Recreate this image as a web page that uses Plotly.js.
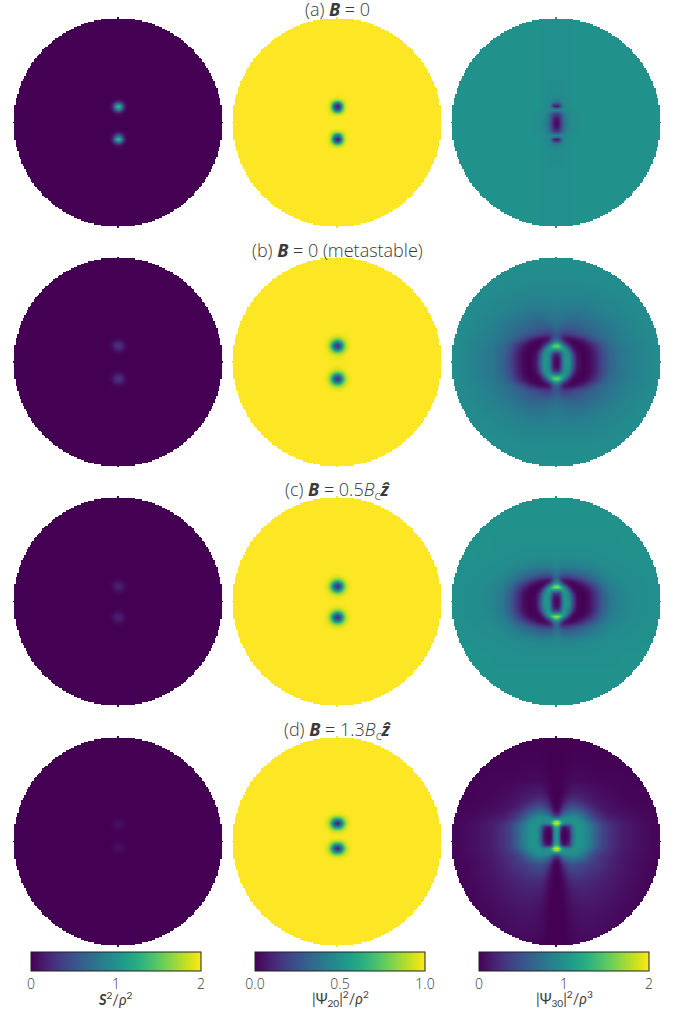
<!DOCTYPE html>
<html><head><meta charset="utf-8">
<script src="https://cdn.plot.ly/plotly-3.0.1.min.js"></script>
<style>html,body{margin:0;padding:0;background:#fff}#c{width:686px;height:1013px}</style>
</head><body><div id="c"></div>
<script>
// ---- Panel titles and colour bar labels ----
const rowTitles = ['(a) <b><i>B</i></b> = 0','(b) <b><i>B</i></b> = 0 (metastable)','(c) <b><i>B</i></b> = 0.5<i>B</i><sub>c</sub><b><i>ẑ</i></b>','(d) <b><i>B</i></b> = 1.3<i>B</i><sub>c</sub><b><i>ẑ</i></b>'];
const barTitles = ['<b><i>S</i></b><sup>2</sup>/<i>ρ</i><sup>2</sup>','|Ψ<sub>20</sub>|<sup>2</sup>/<i>ρ</i><sup>2</sup>','|Ψ<sub>30</sub>|<sup>2</sup>/<i>ρ</i><sup>3</sup>'];
const barMax = [2,1,2];
const barTickVals = [[0,1,2],[0,0.5,1],[0,1,2]];
const barTickText = [['0','1','2'],['0.0','0.5','1.0'],['0','1','2']];

// ---- Disc outline: half-width of each mask row, in mask cells, row 0 to row 75 ----
const discHalfWidth = [75,74,74,74,74,74,74,74,74,74,74,74,74,73,73,73,73,73,72,72,72,71,71,71,71,70,70,69,69,69,68,68,67,67,66,66,65,65,64,64,63,62,62,61,60,60,59,58,57,56,55,54,54,53,52,50,49,48,47,46,45,43,42,40,39,37,35,33,31,29,26,24,21,17,12,0];
const maskStep = 0.6755;

// ---- Vortex height above the feature centre (field units), rows a-d ----
const leftSpot = [7.8,8,7.5,5.5];
const midSpot = [7.8,8,7.5,6];
const rowShift = [0,0,0,2.9];

// ---- Left column: S^2/rho^2 around a vortex (rows dy=0..5, columns dx=0..5) ----
const patchX = [0,1,2,3,4,5,7,51];
const leftA = [[1.45,1.1,.52,.16,.03,0],[1,.75,.36,.1,.02,0],[.42,.3,.15,.05,.01,0],[.12,.09,.04,.01,0,0],[.02,.02,.01,0,0,0],[0,0,0,0,0,0]];
const leftB = [[.3,.26,.17,.08,.03,.01],[.26,.22,.14,.06,.02,0],[.17,.14,.09,.04,.01,0],[.08,.06,.04,.02,.01,0],[.03,.02,.01,.01,0,0],[.01,0,0,0,0,0]];
const leftC = [[.19,.16,.1,.05,.02,0],[.16,.14,.09,.04,.01,0],[.1,.09,.05,.02,.01,0],[.05,.04,.02,.01,0,0],[.02,.01,.01,0,0,0],[0,0,0,0,0,0]];
const leftD = [[.08,.07,.04,.02,.01,0],[.07,.06,.04,.02,0,0],[.04,.04,.02,.01,0,0],[.02,.02,.01,0,0,0],[.01,0,0,0,0,0],[0,0,0,0,0,0]];

// ---- Middle column: |Psi20|^2/rho^2 around a vortex ----
const midA = [[.05,.18,.5,.82,.95,.99],[.18,.32,.62,.85,.96,.99],[.5,.62,.78,.9,.97,1],[.82,.85,.9,.96,.98,1],[.95,.96,.97,.98,.99,1],[.99,.99,1,1,1,1]];
const midB = [[.12,.22,.46,.7,.87,.95],[.22,.32,.55,.75,.88,.96],[.46,.55,.68,.82,.92,.97],[.7,.75,.82,.89,.95,.98],[.87,.88,.92,.95,.98,.99],[.95,.96,.97,.98,.99,1]];
const midC = [[.12,.22,.46,.7,.87,.95],[.22,.32,.55,.75,.88,.96],[.46,.55,.68,.82,.92,.97],[.7,.75,.82,.89,.95,.98],[.87,.88,.92,.95,.98,.99],[.95,.96,.97,.98,.99,1]];
const midD = [[.1,.2,.43,.67,.85,.94],[.22,.32,.53,.73,.87,.95],[.5,.57,.68,.82,.92,.97],[.76,.78,.84,.9,.95,.98],[.92,.92,.94,.96,.98,.99],[.98,.98,.98,.99,1,1]];

// ---- Right column: |Psi30|^2/rho^3 ----
const rightAX = [0,1,2,3,4,6,8,12,51];
const rightAY = [0,2,4,5,6,7,8,9,10,11,13,16,51];
const rightA = [
[.03,.12,.35,.6,.75,.92,.97,1,1],
[.08,.18,.4,.62,.78,.92,.97,1,1],
[.3,.38,.52,.68,.82,.93,.97,1,1],
[.6,.63,.7,.8,.88,.95,.98,1,1],
[.9,.9,.9,.92,.94,.97,.99,1,1],
[.65,.7,.82,.92,.95,.98,1,1,1],
[.08,.2,.55,.85,.93,.98,1,1,1],
[.35,.42,.65,.88,.94,.98,1,1,1],
[.72,.76,.85,.92,.95,.98,1,1,1],
[.86,.87,.9,.94,.96,.98,1,1,1],
[.93,.93,.95,.96,.97,.99,1,1,1],
[.98,.98,.98,.98,.99,.99,1,1,1],
[1,1,1,1,1,1,1,1,1]];
const rightX = [0,1,2,3,4,6,8,10,13,16,19,22,26,32,40,51];
const rightY = [0,2,4,5,6,7,8,9,10,11,12,14,17,20,25,32,40,51];
const rightB = [
[.02,.1,.35,.8,1,1.05,.55,.12,0,.03,.2,.42,.63,.8,.88,.98],
[.05,.12,.4,.8,1,1.02,.5,.1,0,.03,.2,.42,.63,.8,.88,.98],
[.2,.3,.55,.85,1,.95,.4,.08,0,.03,.2,.43,.64,.8,.88,.98],
[.55,.6,.75,.95,1.05,.85,.3,.05,0,.04,.22,.45,.65,.8,.88,.98],
[.95,1,1.05,1.1,1.1,.7,.2,.03,0,.06,.24,.47,.66,.8,.88,.98],
[1.35,1.35,1.25,1.1,.95,.5,.1,.02,.01,.08,.27,.5,.68,.8,.88,.98],
[1.6,1.5,1.3,1,.75,.3,.05,.01,.02,.11,.31,.52,.69,.82,.89,.98],
[1.3,1.2,.95,.7,.45,.15,.02,.01,.05,.17,.36,.55,.7,.82,.89,.98],
[.95,.85,.62,.4,.25,.08,.01,.02,.1,.26,.45,.6,.72,.83,.9,.98],
[.7,.62,.42,.25,.12,.05,.05,.08,.18,.36,.52,.64,.74,.84,.9,.98],
[.55,.48,.33,.2,.12,.1,.14,.2,.32,.46,.58,.68,.76,.85,.91,.98],
[.52,.48,.42,.38,.35,.38,.42,.46,.52,.58,.65,.72,.78,.85,.92,.98],
[.66,.64,.6,.58,.56,.55,.56,.58,.62,.66,.7,.75,.8,.87,.93,.98],
[.75,.74,.73,.72,.7,.68,.67,.68,.7,.73,.76,.8,.84,.89,.94,.98],
[.83,.83,.82,.82,.82,.81,.8,.8,.81,.83,.85,.87,.89,.92,.95,.98],
[.9,.9,.9,.9,.9,.89,.89,.89,.9,.9,.91,.92,.93,.95,.97,.99],
[.95,.95,.95,.95,.95,.95,.95,.95,.95,.96,.96,.96,.97,.97,.98,.99],
[1,1,1,1,1,1,1,1,1,1,1,1,1,1,1,1]];
const rightC = [
[.03,.1,.35,.85,1.05,1,.45,.05,0,.05,.3,.55,.78,.92,.97,1],
[.05,.12,.42,.85,1.05,.97,.4,.05,0,.06,.3,.56,.78,.92,.97,1],
[.3,.35,.6,.95,1.05,.85,.28,.03,0,.07,.32,.58,.79,.92,.97,1],
[.7,.75,.85,1.05,1.1,.7,.15,.02,.01,.1,.35,.6,.81,.92,.97,1],
[1.2,1.2,1.2,1.15,1.05,.5,.08,.01,.02,.14,.4,.64,.83,.93,.97,1],
[1.7,1.6,1.38,1.1,.85,.25,.03,.01,.05,.2,.45,.68,.84,.93,.97,1],
[1.5,1.35,1.05,.75,.5,.1,.01,.03,.1,.28,.5,.7,.85,.93,.97,1],
[1.1,.95,.66,.4,.2,.05,.03,.08,.2,.38,.56,.73,.86,.94,.98,1],
[.85,.72,.42,.2,.1,.06,.09,.16,.31,.48,.64,.77,.88,.95,.98,1],
[.72,.58,.3,.18,.15,.16,.22,.3,.42,.56,.7,.8,.9,.95,.98,1],
[.68,.55,.4,.33,.33,.35,.4,.46,.55,.65,.75,.83,.92,.96,.98,1],
[.75,.7,.62,.58,.57,.58,.6,.64,.7,.76,.82,.88,.94,.97,.99,1],
[.87,.86,.84,.82,.82,.82,.83,.84,.86,.88,.91,.94,.97,.98,.99,1],
[.94,.94,.93,.93,.93,.93,.93,.94,.94,.95,.96,.97,.98,.99,1,1],
[.98,.98,.98,.98,.98,.98,.98,.98,.98,.98,.99,.99,.99,1,1,1],
[1,1,1,1,1,1,1,1,1,1,1,1,1,1,1,1],
[1,1,1,1,1,1,1,1,1,1,1,1,1,1,1,1],
[1,1,1,1,1,1,1,1,1,1,1,1,1,1,1,1]];
// panel (d) is not mirrored top to bottom, so its rows are listed from bottom to top
const rightDY = [-54,-35,-27,-21,-17,-14,-12,-10,-9,-8,-7,-6,-5,-4,-2,0,2,4,5,6,7,8,9,10,12,14,17,21,27,35,55];
const rightDBottom = [
[0,0,0,0,0,.01,.02,.03,.03,.03,.03,.03,.02,.02,.01,0],
[0,0,0,0,.02,.05,.08,.1,.11,.11,.1,.09,.08,.05,.03,.01],
[0,0,.01,.02,.05,.11,.15,.17,.18,.17,.16,.14,.12,.08,.04,.01],
[0,.01,.03,.06,.1,.2,.25,.27,.26,.24,.2,.18,.14,.1,.05,.01],
[0,.02,.06,.12,.2,.33,.38,.38,.35,.3,.26,.22,.17,.11,.06,.01],
[.01,.04,.12,.24,.35,.45,.5,.48,.42,.37,.32,.27,.2,.12,.06,.01],
[.06,.12,.28,.42,.55,.65,.7,.65,.56,.44,.34,.27,.2,.12,.06,.02],
[.3,.38,.55,.7,.78,.85,.88,.85,.72,.53,.38,.29,.22,.13,.07,.02],
[.6,.7,.82,.9,.95,.95,.95,.92,.78,.58,.41,.31,.23,.13,.07,.02],
[1.15,1.1,1.02,1,1,.98,.98,.97,.85,.65,.46,.34,.25,.14,.07,.02],
[1.75,1.6,1.25,1.05,1,.98,1,1,.92,.72,.5,.36,.26,.14,.08,.02],
[1.85,1.75,1.3,1,.9,.88,1,1.02,.97,.79,.56,.39,.27,.15,.08,.02],
[1.55,1.4,.8,.5,.4,.5,.9,1.05,1,.82,.58,.41,.28,.15,.08,.02],
[1.25,1,.35,.12,.06,.25,.8,1.05,1,.84,.6,.42,.28,.15,.08,.02],
[1.1,.85,.15,.03,.01,.12,.76,1.05,1,.85,.6,.42,.28,.15,.08,.02]];
const rightDCentre = [1.1,.85,.12,.02,0,.1,.72,1.05,1,.85,.6,.42,.28,.15,.08,.02];
const rightDTop = [
[1.1,.85,.15,.03,.01,.12,.76,1.05,1,.85,.6,.42,.28,.15,.08,.02],
[1.25,1,.35,.12,.06,.25,.8,1.05,1,.84,.6,.42,.28,.15,.08,.02],
[1.55,1.4,.8,.5,.4,.5,.9,1.05,1,.82,.58,.41,.27,.15,.08,.02],
[1.85,1.75,1.3,1,.9,.88,1,1.02,.97,.78,.55,.38,.25,.14,.07,.02],
[1.75,1.6,1.25,1.05,1,.98,1,1,.92,.7,.48,.33,.22,.13,.07,.02],
[1.15,1.1,1.02,1,1,.98,.98,.97,.85,.62,.42,.28,.19,.12,.06,.02],
[.6,.7,.82,.9,.95,.95,.95,.92,.78,.55,.36,.24,.16,.1,.05,.02],
[.3,.38,.55,.7,.78,.85,.88,.85,.7,.5,.33,.22,.14,.09,.05,.02],
[.06,.12,.28,.42,.55,.65,.7,.65,.55,.38,.24,.17,.1,.07,.04,.02],
[.01,.04,.12,.25,.35,.45,.5,.47,.38,.27,.17,.12,.09,.05,.03,.01],
[0,.01,.04,.1,.18,.26,.3,.27,.22,.16,.12,.09,.07,.04,.02,.01],
[0,0,.01,.02,.06,.1,.14,.14,.12,.1,.08,.06,.05,.03,.02,.01],
[0,0,0,.01,.02,.04,.05,.05,.05,.04,.04,.03,.03,.02,.01,.01],
[0,0,0,0,.005,.01,.015,.015,.015,.015,.01,.01,.01,.01,.005,0],
[0,0,0,0,0,0,0,0,0,0,0,0,0,0,0,0]];

// ---- Helpers: unfold the read-off quadrants ----
const mirrorRow = r => r.slice(1).reverse().concat(r);
const mirrorAxis = a => a.slice(1).reverse().map(v => -v).concat(a);
const mirrorRows = rows => rows.slice(1).reverse().concat(rows);

// stop each field just inside the axis frame so its image never touches the subplot edge
const LIM = 51;
function trimField(f) {
  const x = f.x.map(v => Math.max(-LIM, Math.min(LIM, v)));
  const y = f.y.map(v => Math.max(-LIM, Math.min(LIM, v)));
  const keepY = y.map((v,i) => i === 0 || v !== y[i-1]);
  const ys = y.filter((v,i) => keepY[i]);
  const zs = f.z.filter((v,i) => keepY[i]);
  const yOut = [-LIM-0.5].concat(ys, [LIM+0.5]);
  const zOut = [zs[0]].concat(zs, [zs[zs.length-1]]).map(r => [r[0]].concat(r, [r[r.length-1]]));
  return { x:[-LIM-0.5].concat(x, [LIM+0.5]), y:yOut, z:zOut };
}
function fromPatch(patch, v, bg, shift) {
  const bgRow = patchX.map(() => bg);
  const ys = [0], rows = [bgRow];
  const withBg = r => r.concat([bg, bg]);
  [5,4,3,2,1].forEach(d => { ys.push(v - d); rows.push(withBg(patch[d])); });
  [0,1,2,3,4,5].forEach(d => { ys.push(v + d); rows.push(withBg(patch[d])); });
  ys.push(v + 7); rows.push(bgRow);
  ys.push(60); rows.push(bgRow);
  return trimField({ x: mirrorAxis(patchX), y: mirrorAxis(ys).map(t => t + shift), z: mirrorRows(rows).map(mirrorRow) });
}
function fromQuad(xs, ys, rows, shift) {
  return trimField({ x: mirrorAxis(xs), y: mirrorAxis(ys).map(t => t + shift), z: mirrorRows(rows).map(mirrorRow) });
}

const leftPanels = [leftA,leftB,leftC,leftD];
const midPanels = [midA,midB,midC,midD];
const rightFields = [
  fromQuad(rightAX, rightAY, rightA, 0),
  fromQuad(rightX, rightY, rightB, 0),
  fromQuad(rightX, rightY, rightC, 0),
  trimField({ x: mirrorAxis(rightX), y: rightDY.map(t => t + rowShift[3]),
    z: rightDBottom.concat([rightDCentre], rightDTop).map(mirrorRow) })
];

// white cells outside the disc; the grid runs past the axes
const cellIdx = Array.from({length:161}, (_,i) => i - 80);
const maskAxis = cellIdx.map(i => i * maskStep);
const maskZ = cellIdx.map(j => cellIdx.map(i => (Math.abs(j) <= 75 && Math.abs(i) <= discHalfWidth[Math.abs(j)]) ? null : 1));

// ---- Layout geometry (pixels): 218.24 px span for the axis range of +-53 units ----
const W = 686, H = 1013, D = 218.24, AX = 53;
const colLeft = [8.88,227.88,446.88];
const rowTop = [13.38,252.88,492.38,732.38];
const rowTitleY = [9,250,490.5,730.5];
const barLeft = [31,255,479], barLen = 170, barTop = 952, barThick = 19;
const textFont = 'Open Sans, sans-serif', barFont = 'Lato, sans-serif', textColor = '#3a3a3a';

const traces = [], layout = {
  width: W, height: H, paper_bgcolor:'#fff', plot_bgcolor:'#fff',
  margin:{l:0,r:0,t:0,b:0,autoexpand:false}, showlegend:false,
  font:{family:textFont, color:textColor, size:15}, annotations:[]
};
let n = 0;
for (let r = 0; r < 4; r++) {
  const fields = [
    fromPatch(leftPanels[r], leftSpot[r], 0, rowShift[r]),
    fromPatch(midPanels[r], midSpot[r], 1, rowShift[r]),
    rightFields[r]
  ];
  for (let c = 0; c < 3; c++) {
    n++;
    const sfx = n === 1 ? '' : String(n);
    const axis = dom => ({domain:dom, range:[-AX,AX], visible:false, fixedrange:true});
    layout['xaxis'+sfx] = Object.assign(axis([colLeft[c]/W,(colLeft[c]+D)/W]), {anchor:'y'+sfx});
    layout['yaxis'+sfx] = Object.assign(axis([1-(rowTop[r]+D)/H,1-rowTop[r]/H]), {anchor:'x'+sfx});
    const t = {
      type:'heatmap', x:fields[c].x, y:fields[c].y, z:fields[c].z, xaxis:'x'+sfx, yaxis:'y'+sfx,
      colorscale:'Viridis', zmin:0, zmax:barMax[c], zsmooth:'best', hoverinfo:'skip', showscale:false
    };
    if (r === 0) {
      t.showscale = true;
      t.colorbar = {
        orientation:'h', lenmode:'pixels', len:barLen, thickness:barThick, thicknessmode:'pixels',
        x:barLeft[c]/W, xanchor:'left', y:1-barTop/H, yanchor:'top', xpad:0, ypad:0,
        outlinecolor:'#222', outlinewidth:1, borderwidth:0, ticks:'', ticklen:0,
        tickmode:'array', tickvals:barTickVals[c], ticktext:barTickText[c],
        tickfont:{family:textFont, size:14, color:textColor, weight:300}
      };
    }
    traces.push(t);
    traces.push({
      type:'heatmap', x:maskAxis, y:maskAxis, z:maskZ, xaxis:'x'+sfx, yaxis:'y'+sfx,
      colorscale:[[0,'#fff'],[1,'#fff']], zmin:0, zmax:1, zsmooth:false, hoverinfo:'skip', showscale:false
    });
  }
  layout.annotations.push({
    text:rowTitles[r], xref:'paper', yref:'paper', x:337/W, y:1-rowTitleY[r]/H,
    xanchor:'center', yanchor:'middle', showarrow:false,
    font:{family:textFont, size:18, color:textColor, weight:300}
  });
}
for (let c = 0; c < 3; c++) {
  layout.annotations.push({
    text:barTitles[c], xref:'paper', yref:'paper', x:(barLeft[c]+barLen/2)/W, y:1-998/H,
    xanchor:'center', yanchor:'middle', showarrow:false,
    font:{family:barFont, size:14.5, color:textColor}
  });
}
Plotly.newPlot('c', traces, layout, {staticPlot:true, displayModeBar:false});
</script></body></html>
